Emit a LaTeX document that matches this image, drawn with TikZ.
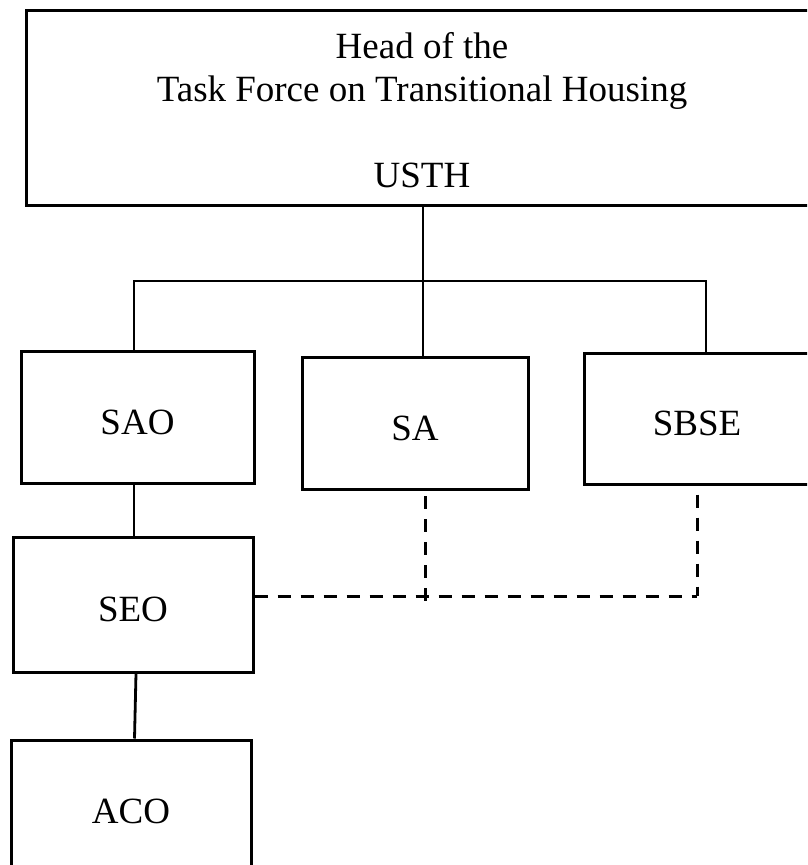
\documentclass[tikz,border=0pt]{standalone}
\usepackage{fontspec}
\setmainfont{Liberation Serif}
\usetikzlibrary{positioning}
\tikzset{
  orgbox/.style={draw=black, line width=3pt, minimum width=226pt, minimum height=132pt,
    inner sep=0pt, text height=34pt, text depth=0pt, font=\fontsize{37}{43}\selectfont},
  solidlink/.style={line width=2.8pt},
  dashlink/.style={line width=3pt, dash pattern=on 13pt off 10pt},
}
\begin{document}
\begin{tikzpicture}[x=1pt, y=-1pt]
  \useasboundingbox (0,0) rectangle (807,865);
  \clip (0,0) rectangle (807,865);

  % Head of the task force
  \node[orgbox, minimum width=792pt, minimum height=195pt] (usth) at (422,107.5) {};
  \node[font=\fontsize{37}{43}\selectfont, align=center] (usthtext) at (422,110.5)
    {Head of the\\Task Force on Transitional Housing\\[43pt]USTH};

  % Sections
  \node[orgbox, minimum width=233pt] (sao) at (137.5,417) {SAO};
  \node[orgbox] (sa) at (415,423) {SA};
  \node[orgbox, minimum height=131pt] (sbse) at (697,418.5) {SBSE};
  \node[orgbox, minimum width=240pt, minimum height=135pt] (seo) at (133,604.5) {SEO};
  \node[orgbox, minimum width=240pt, minimum height=133pt] (aco) at (131,806.5) {ACO};

  % Bus under the head
  \coordinate (bus) at (423,281);
  \coordinate (busw) at (134,281);
  \coordinate (buse) at (706,281);
  \draw[solidlink] (usth.south -| bus) -- (bus |- sa.north);
  \draw[solidlink] (busw |- sao.north) -- (busw) -- (buse) -- (buse |- sbse.north);

  % Line down the left column
  \draw[solidlink] (sao.south -| busw) -- (seo.north -| busw);
  \draw[solidlink] ([xshift=3pt]seo.south) -- ([xshift=3.5pt]aco.north);

  % Dashed liaison
  \coordinate (sadash) at (425,596);
  \coordinate (sbsedash) at (697,596);
  \draw[dashlink] (seo.east |- sbsedash) -- (sbsedash);
  \draw[dashlink] ([yshift=-5.5pt]sa.south -| sadash) -- ([yshift=-6pt]sadash);
  \draw[dashlink] ([yshift=-9pt]sbse.south -| sbsedash) -- (sbsedash);
\end{tikzpicture}
\end{document}
